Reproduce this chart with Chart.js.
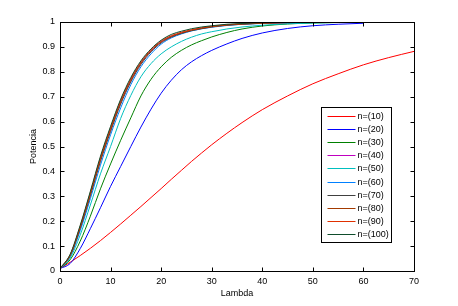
<!DOCTYPE html>
<html>
<head>
<meta charset="utf-8">
<script src="https://cdn.jsdelivr.net/npm/chart.js@4"></script>
<style>
  html, body { margin: 0; padding: 0; background: #fff; }
</style>
</head>
<body>
<canvas id="powerChart" width="458" height="306"></canvas>
<script>
// Lambda (eixo x)
const lambda = [0, 2, 4, 6, 8, 10, 12, 14, 16, 18, 20, 22, 24, 26, 28, 30, 33, 36, 40, 45, 50, 55, 60, 65, 70];

// Potencia para cada n
const n10  = [0.010, 0.035, 0.062, 0.091, 0.122, 0.155, 0.189, 0.224, 0.259, 0.295, 0.331, 0.368, 0.404, 0.440, 0.474, 0.507, 0.553, 0.596, 0.648, 0.703, 0.752, 0.792, 0.828, 0.857, 0.882];
const n20  = [0.010, 0.030, 0.090, 0.170, 0.254, 0.340, 0.420, 0.500, 0.578, 0.650, 0.714, 0.766, 0.808, 0.840, 0.865, 0.886, 0.912, 0.934, 0.956, 0.974, 0.985, 0.991, 0.995];
const n30  = [0.010, 0.045, 0.120, 0.220, 0.330, 0.430, 0.525, 0.615, 0.703, 0.770, 0.820, 0.858, 0.886, 0.908, 0.925, 0.940, 0.958, 0.972, 0.984, 0.992, 0.996, 0.998, 0.999];
const n40  = [0.010, 0.063, 0.176, 0.309, 0.448, 0.568, 0.678, 0.766, 0.835, 0.885, 0.920, 0.942, 0.956, 0.967, 0.975, 0.981, 0.988, 0.992, 0.995, 0.998, 0.999, 1.000, 1.000];
const n50  = [0.010, 0.052, 0.145, 0.265, 0.390, 0.500, 0.613, 0.705, 0.780, 0.833, 0.872, 0.900, 0.922, 0.939, 0.952, 0.961, 0.972, 0.980, 0.987, 0.993, 0.996, 0.998, 0.999];
const n60  = [0.010, 0.058, 0.162, 0.290, 0.425, 0.547, 0.655, 0.748, 0.820, 0.872, 0.911, 0.936, 0.952, 0.964, 0.973, 0.979, 0.986, 0.991, 0.994, 0.997, 0.999, 1.000, 1.000];
const n70  = [0.010, 0.061, 0.171, 0.302, 0.440, 0.560, 0.670, 0.759, 0.829, 0.880, 0.916, 0.939, 0.954, 0.965, 0.973, 0.980, 0.987, 0.991, 0.995, 0.997, 0.999, 1.000, 1.000];
const n80  = [0.010, 0.063, 0.176, 0.309, 0.448, 0.568, 0.678, 0.766, 0.835, 0.885, 0.920, 0.942, 0.956, 0.967, 0.975, 0.981, 0.988, 0.992, 0.995, 0.998, 0.999, 1.000, 1.000];
const n90  = [0.010, 0.065, 0.180, 0.315, 0.455, 0.575, 0.685, 0.772, 0.840, 0.889, 0.924, 0.945, 0.959, 0.969, 0.977, 0.983, 0.989, 0.993, 0.996, 0.998, 0.999, 1.000, 1.000];
const n100 = [0.010, 0.067, 0.184, 0.320, 0.461, 0.581, 0.690, 0.777, 0.844, 0.892, 0.927, 0.950, 0.963, 0.973, 0.980, 0.985, 0.991, 0.994, 0.997, 0.999, 1.000, 1.000, 1.000];

const series = [n10, n20, n30, n40, n50, n60, n70, n80, n90, n100];
const labels = ['n=(10)', 'n=(20)', 'n=(30)', 'n=(40)', 'n=(50)', 'n=(60)', 'n=(70)', 'n=(80)', 'n=(90)', 'n=(100)'];
const colors = ['#ff0000', '#0000ff', '#008000', '#bf00bf', '#00bfbf', '#0080ff', '#404040', '#a33a00', '#e03000', '#0f4d2c'];

const xTicks = [0, 10, 20, 30, 40, 50, 60, 70];
const yTicks = [0, 0.1, 0.2, 0.3, 0.4, 0.5, 0.6, 0.7, 0.8, 0.9, 1];

Chart.defaults.font.family = '"Liberation Sans", Arial, sans-serif';
Chart.defaults.font.size = 9;
Chart.defaults.color = '#000';

// caixa, ticks para dentro e legenda no estilo do MATLAB
const matlabBox = {
  id: 'matlabBox',
  afterDraw(chart) {
    const ctx = chart.ctx;
    const a = chart.chartArea;
    const xs = chart.scales.x, ys = chart.scales.y;
    const L = Math.round(a.left) + 0.5, R = Math.round(a.right) + 0.5;
    const T = Math.round(a.top) + 0.5, B = Math.round(a.bottom) + 0.5;
    ctx.save();
    ctx.strokeStyle = '#000';
    ctx.lineWidth = 1;
    ctx.strokeRect(L, T, R - L, B - T);
    ctx.beginPath();
    xTicks.forEach(v => {
      const px = Math.round(xs.getPixelForValue(v)) + 0.5;
      ctx.moveTo(px, B); ctx.lineTo(px, B - 4);
      ctx.moveTo(px, T); ctx.lineTo(px, T + 4);
    });
    yTicks.forEach(v => {
      const py = Math.round(ys.getPixelForValue(v)) + 0.5;
      ctx.moveTo(L, py); ctx.lineTo(L + 4, py);
      ctx.moveTo(R, py); ctx.lineTo(R - 4, py);
    });
    ctx.stroke();

    // legenda
    const bx = 321.5, by = 107.5, bw = 70, bh = 135, row = 13.2;
    ctx.fillStyle = '#fff';
    ctx.fillRect(bx, by, bw, bh);
    ctx.strokeStyle = '#000';
    ctx.strokeRect(bx, by, bw, bh);
    ctx.font = '9px "Liberation Sans", Arial, sans-serif';
    ctx.textBaseline = 'middle';
    ctx.textAlign = 'left';
    labels.forEach((lab, i) => {
      const y = Math.round(by + 8 + i * row) + 0.5;
      ctx.strokeStyle = colors[i];
      ctx.beginPath();
      ctx.moveTo(bx + 6, y); ctx.lineTo(bx + 34, y);
      ctx.stroke();
      ctx.fillStyle = '#000';
      ctx.fillText(lab, bx + 36, y + 0.5);
    });
    ctx.restore();
  }
};

new Chart(document.getElementById('powerChart'), {
  type: 'line',
  data: {
    datasets: series.map((s, i) => ({
      label: labels[i],
      data: s.map((v, k) => ({ x: lambda[k], y: v })),
      borderColor: colors[i],
      borderWidth: 1,
      pointRadius: 0,
      fill: false,
      cubicInterpolationMode: 'monotone',
      order: series.length - 1 - i // os ultimos ficam por cima, como no MATLAB
    }))
  },
  options: {
    responsive: false,
    animation: false,
    devicePixelRatio: 1,
    layout: { padding: { left: 0, right: 44, top: 22, bottom: 0 } },
    plugins: { legend: { display: false }, tooltip: { enabled: false } },
    scales: {
      x: {
        type: 'linear',
        min: 0, max: 70,
        afterBuildTicks: s => { s.ticks = xTicks.map(v => ({ value: v })); },
        afterFit: s => { s.height = 35; },
        grid: { display: false, drawTicks: false, tickLength: 0 },
        border: { display: false },
        ticks: { padding: 5, maxRotation: 0, callback: v => String(v) },
        title: { display: true, text: 'Lambda', padding: { top: 0, bottom: 7 } }
      },
      y: {
        min: 0, max: 1,
        afterBuildTicks: s => { s.ticks = yTicks.map(v => ({ value: v })); },
        afterFit: s => { s.width = 60; },
        grid: { display: false, drawTicks: false, tickLength: 0 },
        border: { display: false },
        ticks: { padding: 5, callback: v => String(v) },
        title: { display: true, text: 'Potencia', padding: { top: 28, bottom: 0 } }
      }
    }
  },
  plugins: [matlabBox]
});
</script>
</body>
</html>
